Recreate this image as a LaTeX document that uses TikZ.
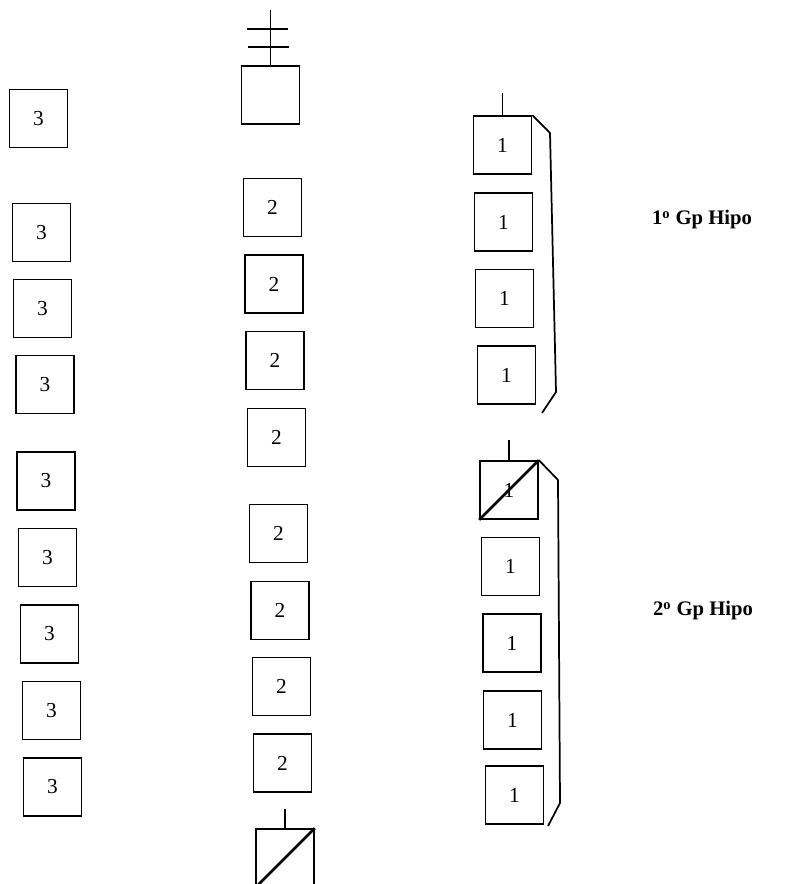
\documentclass[tikz,border=0pt]{standalone}
\usepackage{fontspec}
\setmainfont{Liberation Serif}
\usetikzlibrary{positioning}

\begin{document}
\begin{tikzpicture}[x=0.75pt,y=-0.75pt,
  cell/.style={draw, line width=1.3pt, minimum width=43.5pt, minimum height=43.5pt,
    inner sep=0pt, font=\fontsize{16}{18}\selectfont},
  gp/.style={font=\fontsize{15.5}{18}\selectfont\bfseries},
  bar/.style={line width=1.3pt},
  slash/.style={line width=2pt}]
\useasboundingbox (0,0) rectangle (806,884);
% column 3
\node[cell] (a1) at (38.5,118.5) {3};
\node[cell] (a2) at (41.5,232.5) {3};
\node[cell] (a3) at (42.5,308.5) {3};
\node[cell] (a4) at (45,384.5) {3};
\node[cell] (a5) at (46,481) {3};
\node[cell] (a6) at (47.5,557.5) {3};
\node[cell] (a7) at (49.5,634) {3};
\node[cell] (a8) at (51.5,710.5) {3};
\node[cell] (a9) at (52.5,787) {3};
% column 2
\node[cell] (top) at (270.5,95) {};
\coordinate (tip) at (270.5,10);
\draw[bar] (tip) -- (top.north);
\draw[bar] (247,29) -- (288,29);
\draw[bar] (248,47) -- (289,47);
\node[cell] (b1) at (272.5,207.5) {2};
\node[cell] (b2) at (274,284) {2};
\node[cell] (b3) at (275,360.5) {2};
\node[cell] (b4) at (276.5,437.5) {2};
\node[cell] (b5) at (278.5,533.5) {2};
\node[cell] (b6) at (280,610.5) {2};
\node[cell] (b7) at (281.5,686.5) {2};
\node[cell] (b8) at (282.5,763) {2};
\node[cell] (bot) at (285,858) {};
\coordinate (bt) at (285,809);
\draw[bar] (bt) -- (bot.north);
\draw[slash] (bot.north east) -- (bot.south west);
% column 1, first group
\node[cell] (d1) at (502.5,145) {1};
\node[cell] (d2) at (503.5,222) {1};
\node[cell] (d3) at (504.5,298.5) {1};
\node[cell] (d4) at (506.5,375) {1};
\coordinate (dt) at (502.5,93);
\draw[bar] (dt) -- (d1.north);
\coordinate (k1) at (550,133);
\coordinate (k2) at (556,392);
\coordinate (k3) at (542,413);
\draw[bar] (d1.north east) -- (k1) -- (k2) -- (k3);
\node[gp] (g1) at (702,220) {1\textsuperscript{o} Gp Hipo};
% column 1, second group
\node[cell] (e1) at (509,490) {1};
\node[cell] (e2) at (510.5,566.5) {1};
\node[cell] (e3) at (512,643) {1};
\node[cell] (e4) at (512.5,720) {1};
\node[cell] (e5) at (514.5,795) {1};
\coordinate (et) at (509,440);
\draw[bar] (et) -- (e1.north);
\draw[slash] (e1.south west) -- (e1.north east);
\coordinate (m1) at (558,480);
\coordinate (m2) at (560,803);
\coordinate (m3) at (548,826);
\draw[bar] (e1.north east) -- (m1) -- (m2) -- (m3);
\node[gp] (g2) at (703,611) {2\textsuperscript{o} Gp Hipo};
\end{tikzpicture}
\end{document}
